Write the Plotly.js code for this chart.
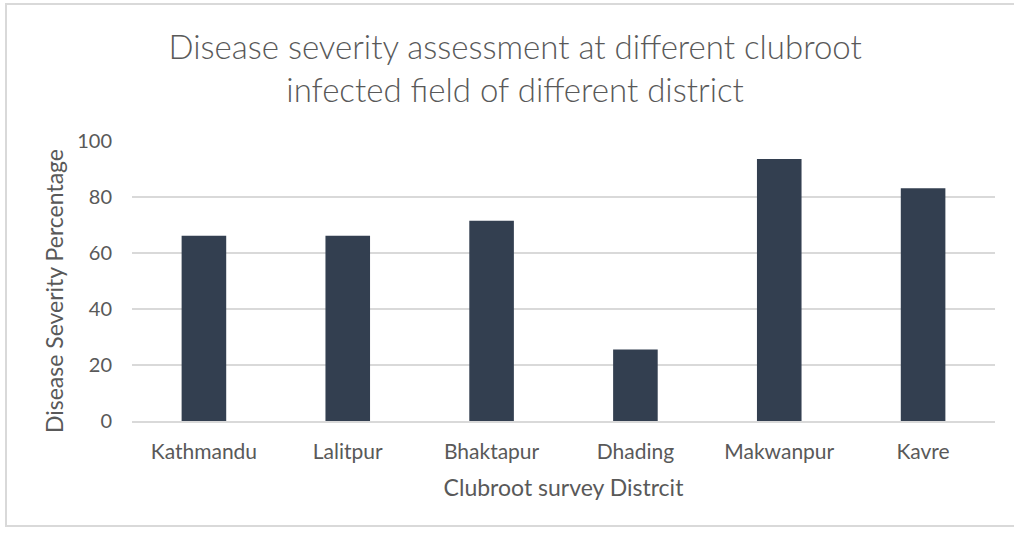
<!DOCTYPE html>
<html>
<head>
<meta charset="utf-8">
<script src="https://cdn.plot.ly/plotly-3.0.1.min.js"></script>
<style>
  html, body { margin: 0; padding: 0; background: #fff; }
  #wrap { position: relative; width: 1014px; height: 533px; overflow: hidden; }
  #frame { position: absolute; left: 5px; top: 3px; width: 1020px; height: 524px; border: 2px solid #d9d9d9; box-sizing: border-box; pointer-events: none; }
  #chart { position: absolute; left: 0; top: 0; width: 1014px; height: 533px; }
</style>
</head>
<body>
<div id="wrap">
  <div id="chart"></div>
  <div id="frame"></div>
</div>
<script>
const districts = ["Kathmandu", "Lalitpur", "Bhaktapur", "Dhading", "Makwanpur", "Kavre"];
const severity = [66.2, 66.2, 71.5, 25.5, 93.6, 83.1];
const yTicks = [0, 20, 40, 60, 80, 100];
const yTitle = "Disease Severity Percentage";

const textColor = "#595959";
const fontFam = "Lato, 'Open Sans', sans-serif";

const data = [{
  type: "bar",
  x: districts,
  y: severity,
  marker: { color: "#333f50" },
  hoverinfo: "x+y"
}];

const layout = {
  width: 1014,
  height: 533,
  margin: { l: 132, r: 19, t: 141, b: 112 },
  paper_bgcolor: "rgba(0,0,0,0)",
  plot_bgcolor: "#ffffff",
  bargap: 0.69,
  showlegend: false,
  title: {
    text: "Disease severity assessment at different clubroot<br>infected field of different district",
    font: { family: fontFam, size: 33, color: textColor, weight: 300 },
    x: 0.508, xref: "container", xanchor: "center",
    y: 0.89, yref: "container", yanchor: "top"
  },
  xaxis: {
    type: "category",
    showgrid: false,
    showline: true,
    linecolor: "#d9d9d9",
    linewidth: 2,
    zeroline: false,
    ticks: "outside",
    ticklen: 11,
    tickcolor: "rgba(0,0,0,0)",
    tickfont: { family: fontFam, size: 21, color: textColor },
    title: {
      text: "Clubroot survey Distrcit",
      font: { family: fontFam, size: 23, color: textColor },
      standoff: 18
    }
  },
  yaxis: {
    range: [0, 100],
    tickvals: yTicks,
    ticktext: yTicks.map(String),
    showgrid: true,
    gridcolor: "#d9d9d9",
    gridwidth: 2,
    zeroline: false,
    showline: false,
    ticks: "outside",
    ticklen: 15,
    tickcolor: "rgba(0,0,0,0)",
    tickfont: { family: fontFam, size: 20, color: textColor }
  },
  annotations: [{
    text: yTitle,
    xref: "paper", yref: "paper",
    x: -0.0904, y: 0.464,
    xanchor: "center", yanchor: "middle",
    textangle: -90,
    showarrow: false,
    font: { family: fontFam, size: 23, color: textColor }
  }]
};

Plotly.newPlot("chart", data, layout, { displayModeBar: false });
</script>
</body>
</html>
